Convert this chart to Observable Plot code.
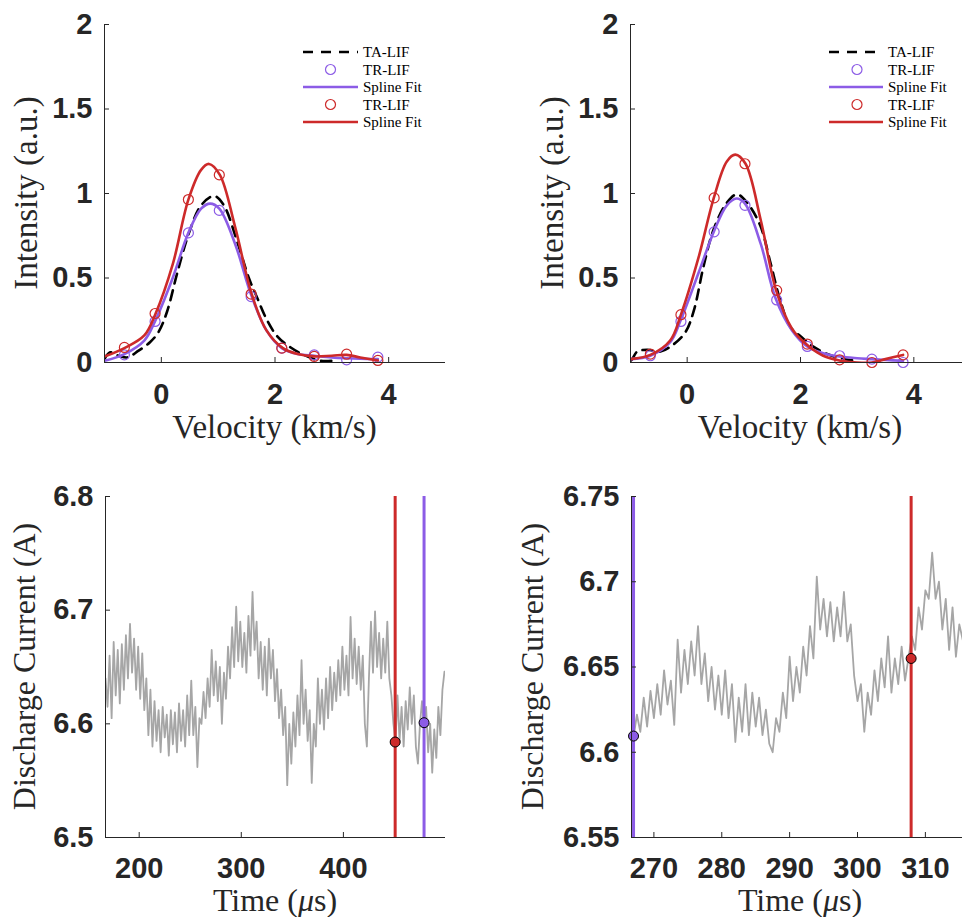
<!DOCTYPE html>
<html><head><meta charset="utf-8">
<script src="https://cdn.jsdelivr.net/npm/d3@7"></script>
<script src="https://cdn.jsdelivr.net/npm/@observablehq/plot@0.6"></script>
<style>
html,body{margin:0;padding:0;overflow:hidden;background:#fff;width:962px;height:917px}
#wrap{position:relative;width:962px;height:917px;overflow:hidden;background:#fff}
.panel{position:absolute}
</style></head>
<body><div id="wrap"></div>
<script>
// ---------- Top panels: LIF velocity distributions ----------
const velTR = [-0.65,-0.11,0.476,1.02,1.58,2.12,2.69,3.26,3.81];
// Panel A (left)
const velTA_A = [-1.0,-0.9,-0.75,-0.6,-0.4,-0.2,-0.05,0.1,0.28,0.49,0.7,0.93,1.1,1.33,1.54,1.69,1.86,2.04,2.27,2.51,2.8,3.0];
const intTA_A = [0.02,0.06,0.04,0.03,0.07,0.12,0.18,0.3,0.53,0.77,0.93,0.985,0.93,0.72,0.5,0.38,0.25,0.155,0.09,0.045,0.01,0.01];
const intTRp_A = [0.045,0.243,0.767,0.90,0.39,0.085,0.045,0.016,0.032];
const intTRr_A = [0.089,0.29,0.964,1.11,0.405,0.085,0.036,0.049,0.012];
const velSp_A = [-1,-0.65,-0.3,-0.11,0.2,0.476,0.7,0.86,1.02,1.3,1.58,1.85,2.12,2.4,2.69,3.0,3.26,3.5,3.81];
const intSp_A = [0.01,0.05,0.13,0.245,0.5,0.767,0.91,0.94,0.91,0.70,0.40,0.19,0.085,0.05,0.04,0.03,0.025,0.022,0.02];
const velSr_A = [-1,-0.65,-0.3,-0.1,0.2,0.476,0.7,0.84,1.03,1.3,1.59,1.85,2.14,2.4,2.69,3.0,3.26,3.5,3.81];
const intSr_A = [0.035,0.085,0.16,0.29,0.58,0.964,1.14,1.175,1.11,0.80,0.405,0.19,0.085,0.05,0.036,0.04,0.045,0.03,0.012];
// Panel B (right)
const velTA_B = [-1.0,-0.97,-0.88,-0.7,-0.47,-0.25,-0.03,0.12,0.29,0.47,0.7,0.88,1.06,1.29,1.47,1.64,1.82,2.0,2.22,2.47,2.7,2.94];
const intTA_B = [0.01,0.02,0.065,0.075,0.065,0.105,0.18,0.31,0.57,0.79,0.945,0.995,0.945,0.81,0.59,0.37,0.21,0.155,0.095,0.05,0.025,0.012];
const intTRp_B = [0.04,0.243,0.773,0.93,0.37,0.095,0.04,0.02,0.0];
const intTRr_B = [0.05,0.283,0.974,1.176,0.427,0.109,0.016,0.0,0.045];
const velSp_B = [-1,-0.65,-0.3,-0.12,0.2,0.49,0.7,0.87,1.02,1.3,1.56,1.85,2.12,2.4,2.69,3.0,3.25,3.5,3.81];
const intSp_B = [0.02,0.04,0.12,0.245,0.53,0.79,0.93,0.97,0.94,0.70,0.38,0.19,0.095,0.055,0.035,0.025,0.02,0.015,0.01];
const velSr_B = [-1,-0.65,-0.3,-0.11,0.2,0.47,0.7,0.85,1.03,1.3,1.57,1.85,2.13,2.4,2.69,3.0,3.26,3.5,3.81];
const intSr_B = [0.02,0.045,0.13,0.283,0.62,0.974,1.19,1.23,1.176,0.84,0.427,0.2,0.1,0.04,0.012,0.0,0.0,0.02,0.045];

const velDomain = [-1, 5];
const intDomain = [0, 2];
const velTicks = [0, 2, 4];
const intTicks = [0, 0.5, 1, 1.5, 2];
const legendLabels = ["TA-LIF", "TR-LIF", "Spline Fit", "TR-LIF", "Spline Fit"];

// ---------- Bottom panels: discharge current ----------
const timeA = [167,169,171,173,175,177,179,181,183,185,
187,189,191,193,195,197,199,201,203,205,
207,209,211,213,215,217,219,221,223,225,
227,229,231,233,235,237,239,241,243,245,
247,249,251,253,255,257,259,261,263,265,
267,269,271,273,275,277,279,281,283,285,
287,289,291,293,295,297,299,301,303,305,
307,309,311,313,315,317,319,321,323,325,
327,329,331,333,335,337,339,341,343,345,
347,349,351,353,355,357,359,361,363,365,
367,369,371,373,375,377,379,381,383,385,
387,389,391,393,395,397,399,401,403,405,
407,409,411,413,415,417,419,421,423,425,
427,429,431,433,435,437,439,441,443,445,
447,449,451,453,455,457,459,461,463,465,
467,469,471,473,475,477,479,481,483,485,
487,489,491,493,495,497,499];
const currentA = [6.640,6.615,6.660,6.605,6.672,6.625,6.665,6.618,6.670,6.630,
6.678,6.640,6.688,6.645,6.675,6.630,6.668,6.622,6.662,6.612,
6.640,6.590,6.630,6.580,6.620,6.585,6.612,6.575,6.615,6.588,
6.608,6.572,6.612,6.582,6.610,6.575,6.618,6.585,6.612,6.580,
6.625,6.590,6.638,6.590,6.615,6.562,6.605,6.600,6.628,6.605,
6.640,6.615,6.665,6.625,6.655,6.620,6.650,6.600,6.645,6.622,
6.668,6.640,6.685,6.650,6.703,6.655,6.690,6.650,6.680,6.645,
6.695,6.660,6.716,6.665,6.690,6.640,6.672,6.630,6.668,6.625,
6.675,6.640,6.665,6.620,6.648,6.605,6.630,6.590,6.615,6.546,
6.600,6.565,6.610,6.580,6.625,6.590,6.656,6.600,6.630,6.585,
6.612,6.548,6.600,6.580,6.640,6.600,6.630,6.595,6.640,6.605,
6.650,6.612,6.645,6.620,6.656,6.625,6.668,6.630,6.660,6.625,
6.694,6.640,6.675,6.635,6.668,6.630,6.660,6.600,6.580,6.640,
6.690,6.645,6.699,6.650,6.680,6.640,6.675,6.645,6.690,6.640,
6.625,6.600,6.584,6.625,6.585,6.615,6.580,6.620,6.595,6.632,
6.600,6.625,6.580,6.565,6.600,6.620,6.595,6.615,6.575,6.600,
6.557,6.595,6.570,6.615,6.590,6.630,6.646];
const markTimeA = [450.7, 479];
const markCurrA = [6.584, 6.601];

const timeB = [267.0,267.5,268.0,268.5,269.0,269.5,270.0,270.5,271.0,271.5,
272.0,272.5,273.0,273.5,274.0,274.5,275.0,275.5,276.0,276.5,
277.0,277.5,278.0,278.5,279.0,279.5,280.0,280.5,281.0,281.5,
282.0,282.5,283.0,283.5,284.0,284.5,285.0,285.5,286.0,286.5,
287.0,287.5,288.0,288.5,289.0,289.5,290.0,290.5,291.0,291.5,
292.0,292.5,293.0,293.5,294.0,294.5,295.0,295.5,296.0,296.5,
297.0,297.5,298.0,298.5,299.0,299.5,300.0,300.5,301.0,301.5,
302.0,302.5,303.0,303.5,304.0,304.5,305.0,305.5,306.0,306.5,
307.0,307.5,308.0,308.5,309.0,309.5,310.0,310.5,311.0,311.5,
312.0,312.5,313.0,313.5,314.0,314.5,315.0,315.5];
const currentB = [6.609,6.622,6.612,6.632,6.615,6.636,6.620,6.640,6.622,6.648,
6.628,6.642,6.616,6.666,6.635,6.660,6.640,6.665,6.645,6.674,
6.640,6.658,6.630,6.650,6.625,6.645,6.622,6.648,6.620,6.640,
6.606,6.632,6.612,6.640,6.610,6.635,6.615,6.632,6.610,6.625,
6.605,6.600,6.620,6.612,6.635,6.620,6.656,6.630,6.650,6.635,
6.662,6.645,6.674,6.655,6.703,6.672,6.690,6.668,6.688,6.665,
6.685,6.668,6.694,6.665,6.675,6.645,6.630,6.640,6.612,6.635,
6.622,6.648,6.630,6.655,6.638,6.668,6.635,6.655,6.640,6.662,
6.642,6.655,6.668,6.660,6.685,6.672,6.695,6.690,6.717,6.690,
6.700,6.672,6.690,6.660,6.685,6.656,6.675,6.666];
const markTimeB = [267.0, 307.9];
const markCurrB = [6.6095, 6.655];

const timeDomainA = [167, 500], currDomainA = [6.5, 6.8];
const timeTicksA = [200, 300, 400], currTicksA = [6.5, 6.6, 6.7, 6.8];
const timeDomainB = [266.7, 316.5], currDomainB = [6.55, 6.75];
const timeTicksB = [270, 280, 290, 300, 310], currTicksB = [6.55, 6.6, 6.65, 6.7, 6.75];

// ---------- styling ----------
const FONT_TICK = "'Liberation Sans', Arial, Helvetica, sans-serif";
const FONT_LABEL = "'Liberation Serif', 'Times New Roman', serif";
const INK = "#262626";
const RED = "#CD2A2A", PURPLE = "#8C5CE6", GREY = "#A6A6A6";

const zip = (xs, ys) => xs.map((x, i) => ({x, y: ys[i]}));

function makePanel(cfg) {
  const {left, top, width, height, mL, mR, mT, mB, xDomain, yDomain, xTicks, yTicks, marks} = cfg;
  const innerW = width - mL - mR, innerH = height - mT - mB;
  const svg = Plot.plot({
    width, height, marginLeft: mL, marginRight: mR, marginTop: mT, marginBottom: mB,
    x: {domain: xDomain},
    y: {domain: yDomain},
    style: {background: "transparent", overflow: "visible", maxWidth: "none"},
    marks: [
      ...marks,
      Plot.ruleY([yDomain[0]], {stroke: INK, strokeWidth: 1}),
      Plot.ruleX([xDomain[0]], {stroke: INK, strokeWidth: 1}),
      Plot.tickX(xTicks, {x: d => d, insetTop: innerH - 5, stroke: INK}),
      Plot.tickY(yTicks, {y: d => d, insetRight: innerW - 5, stroke: INK}),
      Plot.axisX(xTicks, {tickSize: 0, tickPadding: cfg.xPad, tickFormat: d => String(d), label: null,
        fontSize: 29, fontWeight: "bold", fontFamily: FONT_TICK, fill: INK}),
      Plot.axisY(yTicks, {tickSize: 0, tickPadding: 12, tickFormat: d => String(d), label: null,
        fontSize: 29, fontWeight: "bold", fontFamily: FONT_TICK, fill: INK})
    ]
  });
  const div = document.createElement("div");
  div.className = "panel";
  div.style.left = left + "px";
  div.style.top = top + "px";
  div.style.width = width + "px";
  div.style.height = height + "px";
  div.appendChild(svg);
  document.getElementById("wrap").appendChild(div);
  const s = d3.select(svg);
  // x label
  const xl = s.append("text")
    .attr("x", mL + innerW / 2).attr("y", cfg.xLabelY)
    .attr("text-anchor", "middle")
    .attr("font-family", FONT_LABEL).attr("font-size", cfg.labelSize).attr("fill", INK);
  cfg.xLabel.forEach(([t, it]) => xl.append("tspan").attr("font-style", it ? "italic" : null).text(t));
  // y label
  s.append("text")
    .attr("transform", `translate(${mL - cfg.yLabelOff},${mT + innerH / 2}) rotate(-90)`)
    .attr("text-anchor", "middle")
    .attr("font-family", FONT_LABEL).attr("font-size", cfg.labelSize).attr("fill", INK)
    .text(cfg.yLabel);
  return s;
}

function drawLegend(s, x0, x1, xc, xt, rows) {
  const kinds = [["dash", "#000"], ["circle", PURPLE], ["line", PURPLE], ["circle", RED], ["line", RED]];
  kinds.forEach(([k, c], i) => {
    const y = rows[i];
    if (k === "circle") {
      s.append("circle").attr("cx", xc).attr("cy", y).attr("r", 5)
        .attr("fill", "none").attr("stroke", c).attr("stroke-width", 1.2);
    } else {
      s.append("line").attr("x1", x0).attr("x2", x1).attr("y1", y).attr("y2", y)
        .attr("stroke", c).attr("stroke-width", 2.6)
        .attr("stroke-dasharray", k === "dash" ? "10,8" : null);
    }
    s.append("text").attr("x", xt).attr("y", y + 5)
      .attr("text-anchor", "start")
      .attr("font-family", FONT_LABEL).attr("font-size", 15).attr("fill", "#000")
      .text(legendLabels[i]);
  });
}

function lifMarks(velTA, intTA, intTRp, intTRr, velSp, intSp, velSr, intSr) {
  return [
    Plot.line(zip(velTA, intTA), {x: "x", y: "y", stroke: "#000", strokeWidth: 2.6, strokeDasharray: "10,7", curve: "catmull-rom", clip: true}),
    Plot.dot(zip(velTR, intTRp), {x: "x", y: "y", r: 5, stroke: PURPLE, strokeWidth: 1.2, fill: "none"}),
    Plot.line(zip(velSp, intSp), {x: "x", y: "y", stroke: PURPLE, strokeWidth: 2.6, curve: "catmull-rom", clip: true}),
    Plot.dot(zip(velTR, intTRr), {x: "x", y: "y", r: 5, stroke: RED, strokeWidth: 1.2, fill: "none"}),
    Plot.line(zip(velSr, intSr), {x: "x", y: "y", stroke: RED, strokeWidth: 2.6, curve: "catmull-rom", clip: true})
  ];
}

function currentMarks(time, curr, mt, mc, firstColor, secondColor) {
  const cols = [firstColor, secondColor];
  const pts = zip(mt, mc).map((d, i) => ({...d, c: cols[i]}));
  return [
    Plot.line(zip(time, curr), {x: "x", y: "y", stroke: GREY, strokeWidth: 1.8, clip: true}),
    Plot.ruleX(pts, {x: "x", stroke: d => d.c, strokeWidth: 3}),
    Plot.dot(pts, {x: "x", y: "y", r: 5, fill: d => d.c, stroke: "#000", strokeWidth: 1})
  ];
}

// Panel 1
const s1 = makePanel({left: 0, top: 0, width: 481, height: 460, mL: 104, mR: 36, mT: 24, mB: 98,
  xDomain: velDomain, yDomain: intDomain, xTicks: velTicks, yTicks: intTicks, xPad: 21,
  marks: lifMarks(velTA_A, intTA_A, intTRp_A, intTRr_A, velSp_A, intSp_A, velSr_A, intSr_A),
  xLabel: [["Velocity (km/s)", false]], xLabelY: 438, labelSize: 33,
  yLabel: "Intensity (a.u.)", yLabelOff: 67});
drawLegend(s1, 303, 358, 330.5, 363, [52, 69.5, 87, 104.5, 122]);

// Panel 2
const s2 = makePanel({left: 481, top: 0, width: 500, height: 460, mL: 149, mR: 11, mT: 24, mB: 98,
  xDomain: velDomain, yDomain: intDomain, xTicks: velTicks, yTicks: intTicks, xPad: 21,
  marks: lifMarks(velTA_B, intTA_B, intTRp_B, intTRr_B, velSp_B, intSp_B, velSr_B, intSr_B),
  xLabel: [["Velocity (km/s)", false]], xLabelY: 438, labelSize: 33,
  yLabel: "Intensity (a.u.)", yLabelOff: 67});
drawLegend(s2, 348, 402, 376, 407, [52, 69.5, 87, 104.5, 122]);

// Panel 3
makePanel({left: 0, top: 460, width: 481, height: 457, mL: 105, mR: 36, mT: 36, mB: 80,
  xDomain: timeDomainA, yDomain: currDomainA, xTicks: timeTicksA, yTicks: currTicksA, xPad: 20,
  marks: currentMarks(timeA, currentA, markTimeA, markCurrA, RED, PURPLE),
  xLabel: [["Time (", false], ["\u03bc", true], ["s)", false]], xLabelY: 451, labelSize: 32,
  yLabel: "Discharge Current (A)", yLabelOff: 70});

// Panel 4
makePanel({left: 481, top: 460, width: 500, height: 457, mL: 150, mR: 12, mT: 36, mB: 80,
  xDomain: timeDomainB, yDomain: currDomainB, xTicks: timeTicksB, yTicks: currTicksB, xPad: 20,
  marks: currentMarks(timeB, currentB, markTimeB, markCurrB, PURPLE, RED),
  xLabel: [["Time (", false], ["\u03bc", true], ["s)", false]], xLabelY: 451, labelSize: 32,
  yLabel: "Discharge Current (A)", yLabelOff: 88});
</script>
</body></html>
